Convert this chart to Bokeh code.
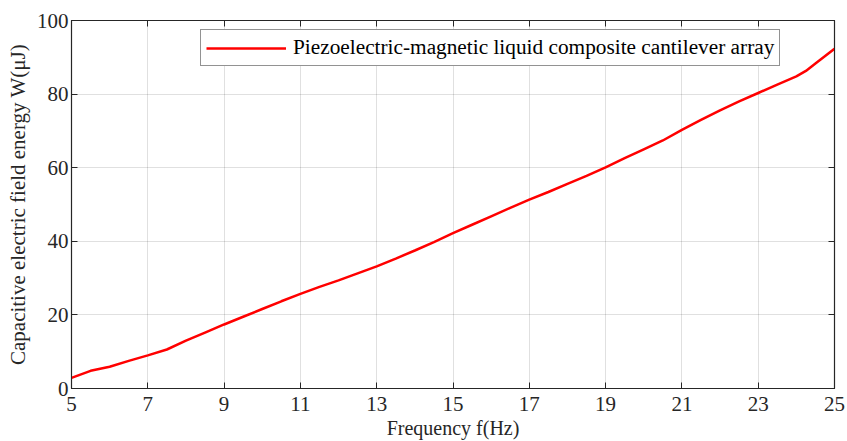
from bokeh.plotting import figure
from bokeh.models import LinearAxis, FixedTicker, Legend, LegendItem, Range1d
from bokeh.embed import file_html
from bokeh.resources import INLINE

freq = [5, 5.5, 6, 6.5, 7, 7.5, 8, 8.5, 9, 9.5, 10, 10.5, 11, 11.5, 12, 12.5, 13,
        13.5, 14, 14.5, 15, 15.5, 16, 16.5, 17, 17.5, 18, 18.5, 19, 19.5, 20,
        20.5, 21, 21.5, 22, 22.5, 23, 23.5, 24, 24.25, 24.5, 25]
energy = [2.9, 4.8, 5.9, 7.5, 9.0, 10.6, 13.0, 15.2, 17.4, 19.5, 21.6, 23.7, 25.7,
          27.6, 29.4, 31.3, 33.2, 35.3, 37.5, 39.8, 42.2, 44.5, 46.8, 49.1, 51.3,
          53.4, 55.6, 57.8, 60.1, 62.6, 65.0, 67.4, 70.3, 73.0, 75.6, 78.0, 80.3,
          82.6, 84.8, 86.3, 88.3, 92.3]
x_ticks = [5, 7, 9, 11, 13, 15, 17, 19, 21, 23, 25]
y_ticks = [0, 20, 40, 60, 80, 100]
series_name = "Piezoelectric-magnetic liquid composite cantilever array"

FONT = "Liberation Serif"
AX = "#262626"

p = figure(width=847, height=441, output_backend="svg", toolbar_location=None,
           x_range=Range1d(5, 25), y_range=Range1d(0, 100),
           min_border_left=71, min_border_right=13, min_border_top=20, min_border_bottom=53)
p.outline_line_color = AX
p.outline_line_width = 1.2

r = p.line(freq, energy, line_color="red", line_width=2.5)

for ax, ticks in ((p.xaxis[0], x_ticks), (p.yaxis[0], y_ticks)):
    ax.ticker = FixedTicker(ticks=ticks)
    ax.major_tick_in = 6
    ax.major_tick_out = 0
    ax.minor_tick_in = 0
    ax.minor_tick_out = 0
    ax.axis_line_color = AX
    ax.major_tick_line_color = AX
    ax.major_label_text_font = FONT
    ax.major_label_text_font_size = "21px"
    ax.major_label_text_color = "#262626"
    ax.axis_label_text_font = FONT
    ax.axis_label_text_font_style = "normal"
    ax.axis_label_text_color = "#262626"

p.xaxis[0].axis_label = "Frequency f(Hz)"
p.yaxis[0].axis_label = "Capacitive electric field energy W(μJ)"
p.xaxis[0].axis_label_text_font_size = "20px"
p.yaxis[0].axis_label_text_font_size = "21px"
p.xaxis[0].major_label_standoff = 8
p.yaxis[0].major_label_standoff = 3
p.xaxis[0].axis_label_standoff = 3
p.yaxis[0].axis_label_standoff = 4

top = LinearAxis(ticker=FixedTicker(ticks=x_ticks),
                 major_label_overrides={t: "" for t in x_ticks},
                 major_tick_in=6, major_tick_out=0, minor_tick_in=0, minor_tick_out=0,
                 major_label_standoff=0,
                 axis_line_color=AX, major_tick_line_color=AX)
right = LinearAxis(ticker=FixedTicker(ticks=y_ticks),
                   major_label_overrides={t: "" for t in y_ticks},
                   major_tick_in=6, major_tick_out=0, minor_tick_in=0, minor_tick_out=0,
                   major_label_standoff=0,
                   axis_line_color=AX, major_tick_line_color=AX)
p.add_layout(top, "above")
p.add_layout(right, "right")

p.xgrid.ticker = FixedTicker(ticks=x_ticks)
p.ygrid.ticker = FixedTicker(ticks=y_ticks)
p.grid.grid_line_color = "#000000"
p.grid.grid_line_alpha = 0.12
p.grid.grid_line_width = 1

legend = Legend(items=[LegendItem(label=series_name, renderers=[r])],
                location=(129, 322))
legend.label_text_font = FONT
legend.label_text_font_size = "21.3px"
legend.label_text_color = "#000000"
legend.glyph_width = 80
legend.glyph_height = 20
legend.label_standoff = 7
legend.padding = 5
legend.margin = 0
legend.border_line_color = AX
legend.border_line_width = 1.2
legend.background_fill_color = "white"
legend.background_fill_alpha = 1
p.add_layout(legend, "center")

open("out.html", "w").write(file_html(p, INLINE))
